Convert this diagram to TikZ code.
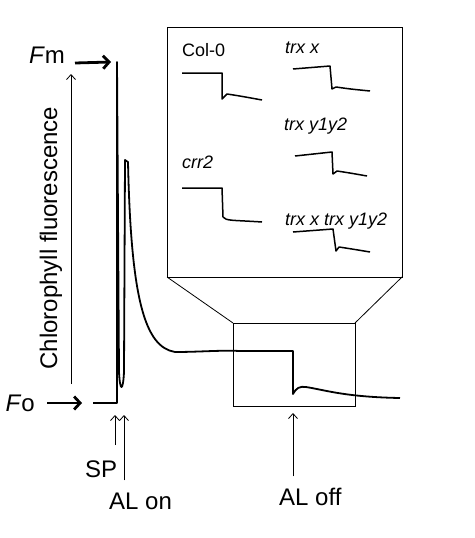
\documentclass[tikz,border=0pt]{standalone}
\usepackage{fontspec}
\setmainfont{Liberation Sans}
\usetikzlibrary{arrows.meta,positioning}
\tikzstyle{trace} = [line width=1.8pt, line join=round]
\tikzstyle{minitrace} = [line width=1.5pt, line join=round]
\tikzstyle{frame} = [line width=0.8pt]
\tikzstyle{bigarrow} = [line width=2.8pt, -{Straight Barb[length=6pt,width=13pt]}]
\tikzstyle{thinarrow} = [line width=0.8pt, -{Straight Barb[length=5pt,width=9pt]}]
\tikzstyle{biglabel} = [inner sep=0pt, font=\fontsize{24}{27}\selectfont]
\tikzstyle{linelabel} = [inner sep=0pt, anchor=base west, font=\fontsize{18}{21}\selectfont]

\begin{document}
\begin{tikzpicture}[x=1pt, y=-1pt]
\useasboundingbox (0,0) rectangle (474,538);
% zoom frames
\draw[frame] (167,27) rectangle (402,277);
\draw[frame] (233,323) rectangle (355,406);
\draw[frame] (167,277) -- (233,323);
\draw[frame] (402,277) -- (355,323);
% main trace
\draw[trace] (93,403) -- (117,403) -- (117,62) -- (119,372)
  .. controls (120,392) and (123,392) .. (124,372) -- (125,160) -- (128,162)
  .. controls (131,300) and (145,347) .. (175,352)
  .. controls (200,352) and (220,350) .. (240,351) -- (293,351) -- (293,394)
  .. controls (296,388) and (300,386) .. (306,387)
  .. controls (325,390) and (345,397) .. (400,398);
% axis
\node[biglabel, rotate=90] (ylabel) at (51,238) {Chlorophyll fluorescence};
\coordinate (axisbase) at (71,384);
\coordinate (axistop) at (71,74);
\draw[thinarrow] (axisbase) -- (axistop);
% Fm and Fo
\node[biglabel, anchor=base east] (fm) at (65,63) {\textit{F}m};
\coordinate (fmtip) at (111,62);
\draw[bigarrow] ([xshift=10pt]fm.base east) -- (fmtip);
\node[biglabel, anchor=base east] (fo) at (35,411) {\textit{F}o};
\coordinate (fotip) at (82,403);
\draw[bigarrow] ([xshift=12pt,yshift=8pt]fo.base east) -- (fotip);
% SP, AL on, AL off
\node[biglabel, anchor=base west] (sp) at (85,477) {SP};
\node[biglabel, anchor=base west] (alon) at (109,509) {AL on};
\node[biglabel, anchor=base west] (aloff) at (279,505) {AL off};
\coordinate (sptip) at (115,415);
\coordinate (ontip) at (124,415);
\coordinate (offtip) at (293,413);
\draw[thinarrow] ([yshift=15pt]sp.north -| sptip) -- (sptip);
\draw[thinarrow] ([yshift=12pt]alon.north -| ontip) -- (ontip);
\draw[thinarrow] ([yshift=11pt]aloff.north -| offtip) -- (offtip);
% inset
\node[linelabel] (col) at (182,56) {Col-0};
\draw[minitrace] (182,73) -- (222,73) -- (222,99) -- (227,94)
  .. controls (240,96) .. (262,100);
\node[linelabel] (crr) at (182,168) {\textit{crr2}};
\draw[minitrace] (182,188) -- (222,188) -- (223,217)
  .. controls (226,221) and (232,220) .. (262,222);
\node[linelabel] (trxx) at (285,53) {\textit{trx x}};
\draw[minitrace] (293,69) -- (330,66) -- (332,89) -- (336,87)
  .. controls (350,89) .. (370,91);
\node[linelabel] (trxy) at (284,130) {\textit{trx y1y2}};
\draw[minitrace] (295,156) -- (332,152) -- (333,174) -- (337,171)
  .. controls (350,173) .. (367,176);
\node[linelabel] (trxxy) at (285,225) {\textit{trx x trx y1y2}};
\draw[minitrace] (293,232) -- (333,229) -- (336,251) -- (339,247)
  .. controls (352,249) .. (370,252);
\end{tikzpicture}
\end{document}
